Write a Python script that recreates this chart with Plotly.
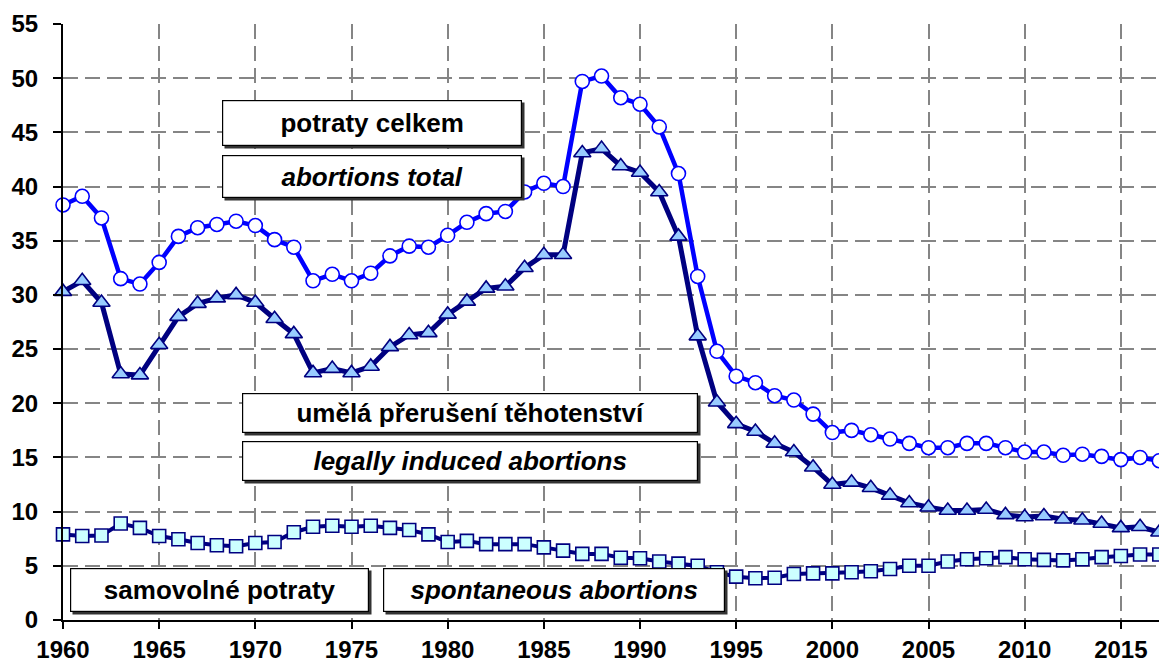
import plotly.graph_objects as go

years = list(range(1960, 2018))

total = [38.3, 39.1, 37.1, 31.5, 31.0, 33.0, 35.4, 36.2, 36.5, 36.8,
         36.4, 35.1, 34.4, 31.3, 31.9, 31.3, 32.0, 33.6, 34.5, 34.4,
         35.5, 36.7, 37.5, 37.7, 39.5, 40.3, 40.0, 49.7, 50.2, 48.2,
         47.6, 45.5, 41.2, 31.7, 24.8, 22.5, 21.9, 20.7, 20.3, 19.0,
         17.3, 17.5, 17.1, 16.7, 16.3, 15.9, 15.9, 16.3, 16.3, 15.9,
         15.5, 15.5, 15.2, 15.3, 15.1, 14.8, 15.0, 14.7]

induced = [30.3, 31.3, 29.3, 22.7, 22.6, 25.4, 28.0, 29.2, 29.7, 30.0,
           29.3, 27.8, 26.4, 22.8, 23.2, 22.8, 23.4, 25.2, 26.3, 26.5,
           28.2, 29.4, 30.6, 30.8, 32.5, 33.7, 33.7, 43.1, 43.5, 41.9,
           41.3, 39.5, 35.4, 26.2, 20.1, 18.1, 17.4, 16.3, 15.5, 14.1,
           12.5, 12.7, 12.2, 11.5, 10.8, 10.4, 10.1, 10.1, 10.2, 9.7,
           9.5, 9.6, 9.3, 9.2, 8.9, 8.5, 8.6, 8.1]

spontaneous = [7.9, 7.75, 7.8, 8.9, 8.5, 7.75, 7.45, 7.1, 6.9, 6.8,
               7.1, 7.2, 8.1, 8.6, 8.7, 8.6, 8.7, 8.5, 8.3, 7.9,
               7.2, 7.3, 7.0, 7.0, 7.0, 6.7, 6.4, 6.1, 6.1, 5.75,
               5.7, 5.4, 5.2, 5.0, 4.4, 4.0, 3.85, 3.9, 4.25, 4.3,
               4.3, 4.4, 4.5, 4.7, 5.0, 5.0, 5.4, 5.6, 5.7, 5.8,
               5.6, 5.55, 5.5, 5.6, 5.8, 5.9, 6.05, 6.05]

x_ticks = list(range(1960, 2016, 5))
y_ticks = list(range(0, 56, 5))

labels = [
    ("potraty celkem", False),
    ("abortions total", True),
    ("umělá přerušení těhotenství", False),
    ("legally induced abortions", True),
    ("samovolné potraty", False),
    ("spontaneous abortions", True),
]
# label boxes in page pixel coords: (left, top, right, bottom)
boxes = [(222, 100, 522, 146), (222, 155, 522, 198),
         (242, 393, 698, 433), (242, 441, 698, 481),
         (70, 568, 369, 612), (383, 568, 725, 612)]

# the page body has an 8px margin; compensate so the figure fills the window
OFF = 8
W, H = 1167 - OFF, 662 - OFF
ML, MR, MT, MB = 63 - OFF, 0, 24 - OFF, 42
PW, PH = W - ML - MR, H - MT - MB


def px(xp):
    return (xp - OFF - ML) / PW


def py(yp):
    return (H - MB - (yp - OFF)) / PH


fig = go.Figure()
fig.add_trace(go.Scatter(
    x=years, y=spontaneous, mode="lines+markers",
    line=dict(color="#000080", width=4),
    marker=dict(symbol="square", size=13, color="#CCFFFF",
                line=dict(color="#000080", width=1.6)),
    cliponaxis=False, showlegend=False))
fig.add_trace(go.Scatter(
    x=years, y=induced, mode="lines+markers",
    line=dict(color="#000080", width=5),
    marker=dict(symbol="triangle-up", size=15, color="#99CCFF",
                line=dict(color="#000080", width=1.6)),
    cliponaxis=False, showlegend=False))
fig.add_trace(go.Scatter(
    x=years, y=total, mode="lines+markers",
    line=dict(color="#0000FF", width=4.5),
    marker=dict(symbol="circle", size=14, color="#FFFFFF",
                line=dict(color="#0000FF", width=1.6)),
    cliponaxis=False, showlegend=False))

shapes = []
annotations = []
for (text, italic), (l, t, r, b) in zip(labels, boxes):
    shapes.append(dict(type="rect", xref="paper", yref="paper",
                       x0=px(l + 2.5), x1=px(r + 2.5), y0=py(b + 2.5), y1=py(t + 2.5),
                       fillcolor="#333333", line=dict(width=0), layer="above"))
    annotations.append(dict(
        xref="paper", yref="paper", x=px(l), y=py(t),
        xanchor="left", yanchor="top", showarrow=False,
        text=f"<i>{text}</i>" if italic else text,
        width=r - l - 2, height=b - t - 2, borderpad=0,
        align="center", valign="middle",
        bgcolor="#FFFFFF", bordercolor="#000000", borderwidth=1.2,
        font=dict(family="Liberation Sans, Arial", size=26, color="#000000",
                  weight="bold")))

fig.update_layout(
    width=W, height=H,
    margin=dict(l=ML, r=MR, t=MT, b=MB, autoexpand=False),
    paper_bgcolor="#FFFFFF", plot_bgcolor="#FFFFFF",
    shapes=shapes, annotations=annotations,
    font=dict(family="Liberation Sans, Arial", color="#000000"),
)
fig.update_xaxes(
    range=[1960, 2017.4], tickvals=x_ticks, ticktext=[str(v) for v in x_ticks],
    showgrid=True, gridcolor="#858585", gridwidth=2.2, griddash="15px,7px",
    showline=True, linecolor="#000000", linewidth=2,
    ticks="outside", ticklen=7, tickcolor="#000000", tickwidth=2,
    ticklabelstandoff=0, automargin=False,
    tickfont=dict(family="Liberation Sans, Arial", size=24, weight="bold"),
    zeroline=False)
fig.update_yaxes(
    range=[0, 55], tickvals=y_ticks,
    showgrid=True, gridcolor="#858585", gridwidth=2.2, griddash="15px,7px",
    showline=True, linecolor="#000000", linewidth=2,
    ticks="outside", ticklen=8, tickcolor="#000000", tickwidth=2,
    ticklabelstandoff=10, automargin=False,
    tickfont=dict(family="Liberation Sans, Arial", size=24, weight="bold"),
    zeroline=False)

fig.write_html("out.html")
